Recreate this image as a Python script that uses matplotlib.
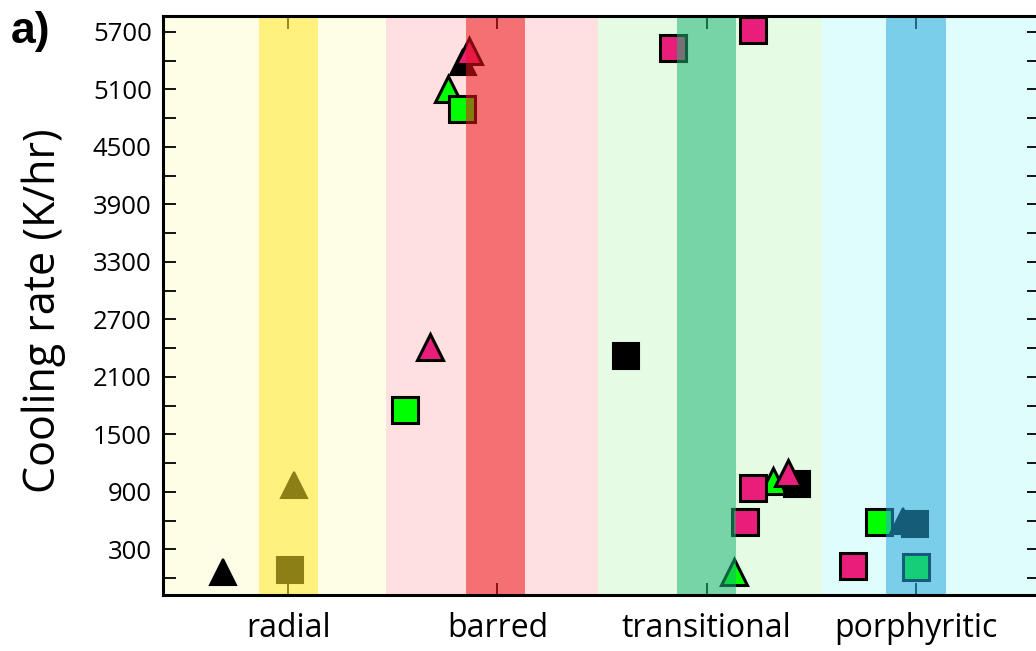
import matplotlib
matplotlib.use('Agg')
import matplotlib.pyplot as plt
from matplotlib.ticker import MultipleLocator

plt.rcParams['font.family'] = ['Open Sans', 'DejaVu Sans']

# texture classes and their x positions
textures = ['radial', 'barred', 'transitional', 'porphyritic']
tex_pos = [1, 2, 3, 4]
region_edges = [0.40, 1.465, 2.48, 3.55, 4.59]
region_colors = ['#FEFDE6', '#FFE0E1', '#E6FBE3', '#E0FDFD']
band_colors = ['#FFE828', '#EB1419', '#1CB474', '#28A9DC']
band_centers = [1.0, 1.99, 3.0, 4.0]
band_halfwidth = 0.143

# cooling rates (K/hr), grouped by marker style and colour
black_tri_x = [0.685, 1.029, 1.836, 3.940]
black_tri_y = [68, 971, 5389, 595]
black_sq_x = [1.006, 2.616, 3.431, 3.996]
black_sq_y = [86, 2324, 979, 567]
green_tri_x = [1.764, 3.318, 3.132]
green_tri_y = [5104, 1013, 65]
green_sq_x = [1.560, 1.831, 3.825, 4.002]
green_sq_y = [1755, 4896, 582, 113]
pink_tri_x = [1.675, 1.862, 3.390]
pink_tri_y = [2414, 5506, 1096]
pink_sq_x = [2.838, 3.220, 3.221, 3.183, 3.699]
pink_sq_y = [5538, 5716, 945, 583, 131]

yticks = [300, 900, 1500, 2100, 2700, 3300, 3900, 4500, 5100, 5700]

fig = plt.figure(figsize=(10.36, 6.51), dpi=100)
ax = fig.add_axes([0.1573, 0.0860, 0.8456, 0.8899])

for i in range(4):
    ax.axvspan(region_edges[i], region_edges[i + 1], color=region_colors[i], lw=0, zorder=0)
    ax.axvspan(band_centers[i] - band_halfwidth, band_centers[i] + band_halfwidth,
               color=band_colors[i], alpha=0.55, lw=0, zorder=3)

ms = 19
ax.plot(green_tri_x, green_tri_y, '^', ms=ms, mfc='#00FF00', mec='black', mew=2.2, ls='none', zorder=2)
ax.plot(green_sq_x, green_sq_y, 's', ms=ms, mfc='#00FF00', mec='black', mew=2.2, ls='none', zorder=2)
ax.plot(black_tri_x, black_tri_y, '^', ms=ms, mfc='black', mec='black', mew=1.5, ls='none', zorder=2)
ax.plot(black_sq_x, black_sq_y, 's', ms=ms, mfc='black', mec='black', mew=1.5, ls='none', zorder=2)
ax.plot(pink_tri_x, pink_tri_y, '^', ms=ms, mfc='#E91E7B', mec='black', mew=2.2, ls='none', zorder=2)
ax.plot(pink_sq_x, pink_sq_y, 's', ms=ms, mfc='#E91E7B', mec='black', mew=2.2, ls='none', zorder=2)

ax.set_xlim(region_edges[0], region_edges[-1])
ax.set_ylim(-175, 5870)

ax.set_xticks(tex_pos)
ax.set_xticklabels(textures, fontsize=23)
ax.set_yticks(yticks)
ax.yaxis.set_minor_locator(MultipleLocator(600))
ax.tick_params(axis='y', which='both', direction='in', left=True, right=True,
               length=9, width=1.3, labelsize=18.5, pad=8)
ax.tick_params(axis='x', direction='in', top=True, bottom=True,
               length=9, width=1.3, pad=12)

for s in ax.spines.values():
    s.set_linewidth(2.2)
    s.set_zorder(4)

ax.set_ylabel('Cooling rate (K/hr)', fontsize=31)
ax.yaxis.set_label_coords(-0.111, 0.49)

fig.text(0.010, 0.934, 'a)', fontsize=32, fontweight='bold',
         family='Liberation Sans', ha='left', va='baseline')

fig.savefig('out.png', dpi=100)
